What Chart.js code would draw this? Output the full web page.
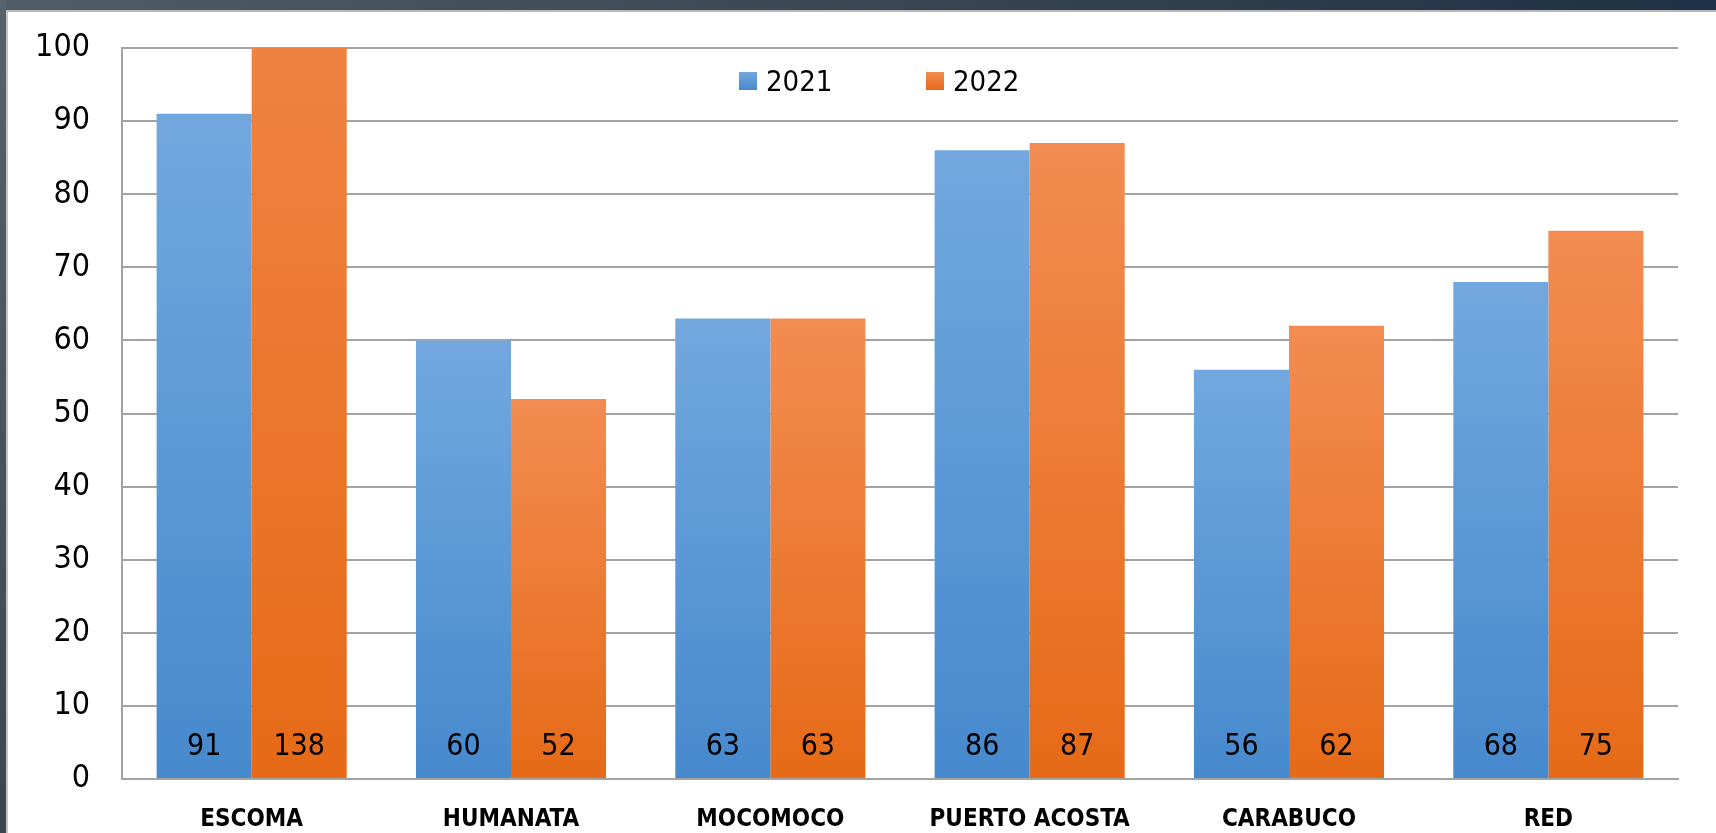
<!DOCTYPE html>
<html>
<head>
<meta charset="utf-8">
<title>2021 / 2022</title>
<script src="https://cdn.jsdelivr.net/npm/chart.js@4.4.1/dist/chart.umd.min.js"></script>
<style>
  html, body { margin: 0; padding: 0; background: #fff; overflow: hidden; }
  #frameTop {
    position: absolute; left: 0; top: 0; width: 1716px; height: 10px;
    background: linear-gradient(to right, #4f5d68, #34434f 60%, #1d3045);
  }
  #frameLeft {
    position: absolute; left: 0; top: 0; width: 6px; height: 833px;
    background: linear-gradient(to bottom, #56636d, #3a4752);
  }
  #panel {
    position: absolute; left: 6px; top: 10px; width: 1710px; height: 823px;
    background: #fff; border-top: 2px solid #b9b9b9; border-left: 2px solid #c4c4c4;
    box-sizing: border-box;
  }
  #chart { position: absolute; left: 0; top: 0; }
</style>
</head>
<body>
<div id="frameTop"></div>
<div id="frameLeft"></div>
<div id="panel"></div>
<canvas id="chart" width="1716" height="833"></canvas>
<script>
// -------- DATA --------
const categories = ["ESCOMA", "HUMANATA", "MOCOMOCO", "PUERTO ACOSTA", "CARABUCO", "RED"];
const seriesLabels = ["2021", "2022"];
const values2021 = [91, 60, 63, 86, 56, 68];
const values2022 = [138, 52, 63, 87, 62, 75];
const yTicks = [0, 10, 20, 30, 40, 50, 60, 70, 80, 90, 100];

// -------- STYLE --------
const NARROW = '"DejaVu Sans Condensed", "Liberation Sans Narrow", sans-serif';
const blueStops = ["#72a8de", "#4689cd"];
const orangeStops = ["#f38c52", "#e66a17"];
const gridColor = "#a3a3a3";

// gradient per bar, from the bar's real top down to zero
function barGradient(stops) {
    return ctx => {
        const chart = ctx.chart;
        if (!chart.chartArea || ctx.type !== "data") return stops[1];
        const y = chart.scales.y;
        const top = y.getPixelForValue(ctx.raw);
        const base = y.getPixelForValue(0);
        const g = chart.ctx.createLinearGradient(0, top, 0, base);
        g.addColorStop(0, stops[0]);
        g.addColorStop(1, stops[1]);
        return g;
    };
}

// values written inside the bars, near the base
const valueLabels = {
    id: "valueLabels",
    afterDatasetsDraw(chart) {
        const c = chart.ctx;
        c.save();
        c.font = "30px " + NARROW;
        c.fillStyle = "#000";
        c.textAlign = "center";
        c.textBaseline = "middle";
        chart.data.datasets.forEach((ds, i) => {
            chart.getDatasetMeta(i).data.forEach((bar, j) => {
                c.fillText(String(ds.data[j]), bar.x, bar.base - 31);
            });
        });
        c.restore();
    }
};

// legend sitting inside the plot, like the original
const insideLegend = {
    id: "insideLegend",
    afterDraw(chart, args, opts) {
        const c = chart.ctx;
        c.save();
        c.font = "29px " + NARROW;
        c.textBaseline = "middle";
        c.textAlign = "left";
        chart.data.datasets.forEach((ds, i) => {
            const x = opts.x[i];
            const g = c.createLinearGradient(0, opts.y, 0, opts.y + opts.box);
            g.addColorStop(0, opts.stops[i][0]);
            g.addColorStop(1, opts.stops[i][1]);
            c.fillStyle = g;
            c.fillRect(x, opts.y, opts.box, opts.box);
            c.fillStyle = "#000";
            c.fillText(ds.label, x + opts.box + 9, opts.y + opts.box / 2 + 2);
        });
        c.restore();
    }
};

Chart.defaults.color = "#000";

new Chart(document.getElementById("chart"), {
    type: "bar",
    data: {
        labels: categories,
        datasets: [
            {
                label: seriesLabels[0],
                data: values2021,
                backgroundColor: barGradient(blueStops),
                borderWidth: 0
            },
            {
                label: seriesLabels[1],
                data: values2022,
                backgroundColor: barGradient(orangeStops),
                borderWidth: 0
            }
        ]
    },
    options: {
        responsive: false,
        animation: false,
        events: [],
        layout: { padding: { left: 30, right: 38, top: 44, bottom: 1 } },
        datasets: {
            bar: { categoryPercentage: 0.733, barPercentage: 1 }
        },
        plugins: {
            legend: { display: false },
            tooltip: { enabled: false },
            insideLegend: {
                x: [739, 926],
                y: 72,
                box: 18,
                stops: [blueStops, orangeStops]
            }
        },
        scales: {
            x: {
                grid: { display: false, drawTicks: false },
                border: { display: true, color: gridColor, width: 2 },
                afterFit: axis => { axis.height = 53; },
                ticks: {
                    padding: 29,
                    font: { family: NARROW, size: 24, weight: "bold", lineHeight: 1 },
                    maxRotation: 0,
                    autoSkip: false
                }
            },
            y: {
                min: yTicks[0],
                max: yTicks[yTicks.length - 1],
                afterBuildTicks: axis => {
                    axis.ticks = yTicks.map(v => ({ value: v }));
                },
                afterFit: axis => { axis.width = 92; },
                grid: { color: gridColor, lineWidth: 2, drawTicks: false },
                border: { display: true, color: gridColor, width: 2 },
                ticks: {
                    padding: 32,
                    font: { family: NARROW, size: 32, lineHeight: 1 }
                }
            }
        }
    },
    plugins: [valueLabels, insideLegend]
});
</script>
</body>
</html>
